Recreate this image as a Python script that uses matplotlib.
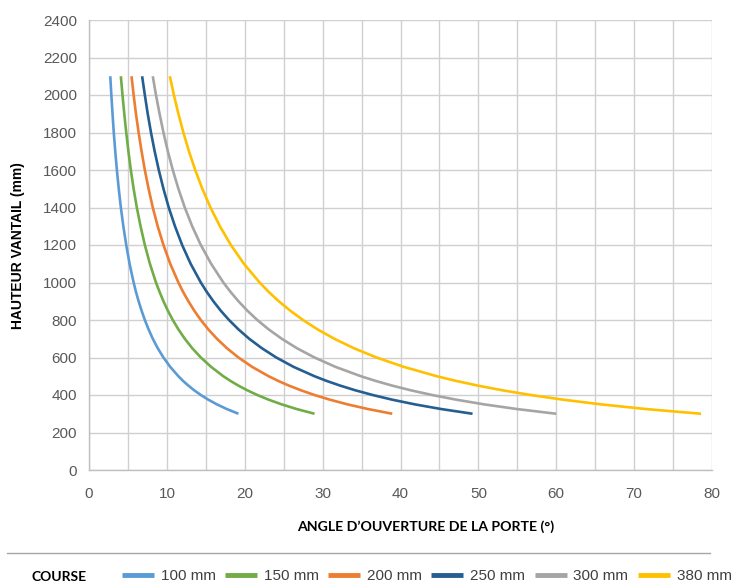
import matplotlib.pyplot as plt
from matplotlib.ticker import MultipleLocator, FuncFormatter

# heights (mm) and opening angle (deg) for each course
hauteur = [300, 325, 350, 375, 400, 425, 450, 475, 500, 550, 600, 650, 700, 750, 800,
           850, 900, 950, 1000, 1100, 1200, 1300, 1400, 1500, 1600, 1700, 1800, 1900, 2000, 2100]

angle_100 = [19.19, 17.70, 16.43, 15.32, 14.36, 13.51, 12.76, 12.08, 11.48, 10.43, 9.56, 8.82, 8.19, 7.65, 7.17,
             6.75, 6.37, 6.03, 5.73, 5.21, 4.78, 4.41, 4.09, 3.82, 3.58, 3.37, 3.18, 3.02, 2.87, 2.73]
angle_150 = [28.96, 26.68, 24.75, 23.07, 21.61, 20.33, 19.19, 18.17, 17.25, 15.68, 14.36, 13.25, 12.30, 11.48, 10.76,
             10.12, 9.56, 9.06, 8.60, 7.82, 7.17, 6.62, 6.14, 5.73, 5.37, 5.06, 4.78, 4.53, 4.30, 4.09]
angle_200 = [38.94, 35.84, 33.20, 30.93, 28.96, 27.22, 25.68, 24.31, 23.07, 20.95, 19.19, 17.70, 16.43, 15.32, 14.36,
             13.51, 12.76, 12.08, 11.48, 10.43, 9.56, 8.82, 8.19, 7.65, 7.17, 6.75, 6.37, 6.03, 5.73, 5.46]
angle_250 = [49.25, 45.24, 41.85, 38.94, 36.42, 34.21, 32.26, 30.52, 28.96, 26.27, 24.05, 22.18, 20.57, 19.19, 17.98,
             16.91, 15.97, 15.12, 14.36, 13.05, 11.96, 11.04, 10.24, 9.56, 8.96, 8.43, 7.96, 7.54, 7.17, 6.82]
angle_300 = [60.00, 54.97, 50.75, 47.16, 44.05, 41.33, 38.94, 36.82, 34.92, 31.65, 28.96, 26.68, 24.75, 23.07, 21.61,
             20.33, 19.19, 18.17, 17.25, 15.68, 14.36, 13.25, 12.30, 11.48, 10.76, 10.12, 9.56, 9.06, 8.60, 8.19]
angle_380 = [78.59, 71.55, 65.76, 60.88, 56.72, 53.11, 49.95, 47.16, 44.67, 40.42, 36.92, 33.99, 31.50, 29.35, 27.48,
             25.83, 24.37, 23.07, 21.91, 19.89, 18.22, 16.81, 15.60, 14.55, 13.64, 12.83, 12.12, 11.48, 10.90, 10.38]

series = [
    ('100 mm', angle_100, '#5B9BD5'),
    ('150 mm', angle_150, '#70AD47'),
    ('200 mm', angle_200, '#ED7D31'),
    ('250 mm', angle_250, '#255E91'),
    ('300 mm', angle_300, '#A5A5A5'),
    ('380 mm', angle_380, '#FFC000'),
]

sans = ['Liberation Sans', 'DejaVu Sans']
bold_font = ['Lato', 'DejaVu Sans']

fig = plt.figure(figsize=(7.32, 5.85), dpi=100)
ax = fig.add_axes([89 / 732, 1 - 470 / 585, 623 / 732, 450 / 585])

lines = []
for name, ang, col in series:
    ln, = ax.plot(ang, hauteur, color=col, lw=1.9, label=name, solid_capstyle='butt')
    lines.append(ln)

ax.set_xlim(0, 80)
ax.set_ylim(0, 2400)
ax.xaxis.set_major_locator(MultipleLocator(5))
ax.xaxis.set_major_formatter(FuncFormatter(lambda v, p: '%d' % v if round(v) % 10 == 0 else ''))
ax.yaxis.set_major_locator(MultipleLocator(200))
ax.grid(True, color='#D0D0D0', lw=1.0)
# no gridline at the right end and at the top
ax.get_xgridlines()[-1].set_visible(False)
ax.get_ygridlines()[-1].set_visible(False)
ax.tick_params(which='both', length=0)
ax.tick_params(axis='x', pad=12)
ax.tick_params(axis='y', pad=8.5)
for lab in ax.get_xticklabels() + ax.get_yticklabels():
    lab.set_family(sans)
    lab.set_fontsize(11)
    lab.set_color('#595959')

for s in ['top', 'right']:
    ax.spines[s].set_visible(False)
for s in ['left', 'bottom']:
    ax.spines[s].set_color('#BFBFBF')
    ax.spines[s].set_linewidth(1.0)
ax.set_axisbelow(True)

fig.text(18 / 732, 1 - 246 / 585, 'HAUTEUR VANTAIL (mm)', family=sans, fontweight='bold',
         fontsize=10, rotation=90, ha='center', va='center')
fig.text(426 / 732, 1 - 527 / 585, 'ANGLE D\u2019OUVERTURE DE LA PORTE (°)', family=bold_font,
         fontweight='bold', fontsize=10.2, ha='center', va='center')

fig.add_artist(plt.Line2D([7 / 732, 710 / 732], [1 - 553 / 585, 1 - 553 / 585],
                          color='#A6A6A6', lw=1.0, transform=fig.transFigure))

fig.text(31 / 732, 1 - 577 / 585, 'COURSE', family=bold_font, fontweight='bold',
         fontsize=10, ha='left', va='center')
leg = fig.legend(handles=lines, loc='center left', bbox_to_anchor=(122 / 732, 1 - 576 / 585),
                 ncol=6, frameon=False, prop={'family': sans, 'size': 11},
                 handlelength=2.1, handletextpad=0.45, columnspacing=0.6, borderpad=0, borderaxespad=0)
for h in leg.get_lines():
    h.set_linewidth(3.5)
for t in leg.get_texts():
    t.set_color('#404040')

fig.savefig('out.png', dpi=100)
